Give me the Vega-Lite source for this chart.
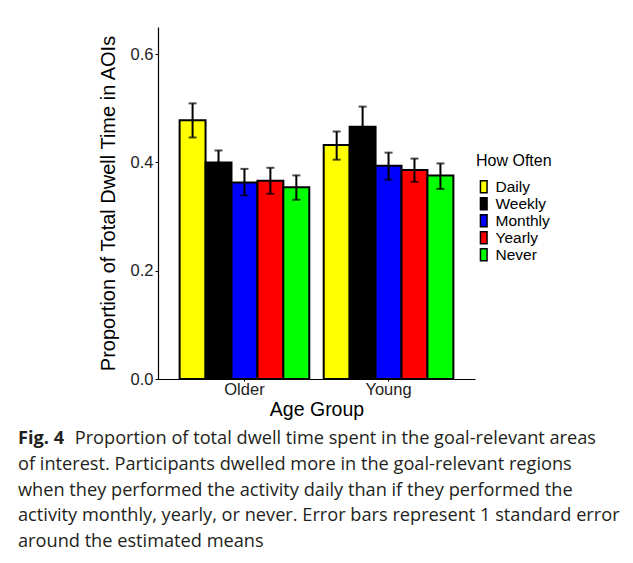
{
  "$schema": "https://vega.github.io/schema/vega-lite/v6.json",
  "width": 317,
  "height": 352,
  "autosize": {"type": "none"},
  "padding": {"left": 158, "top": 27, "right": 158, "bottom": 184},
  "background": "white",
  "config": {
    "view": {"stroke": null},
    "font": "Liberation Sans",
    "axis": {"domainColor": "black", "domainWidth": 1.2, "tickColor": "black", "tickSize": 3, "labelColor": "#222", "titleColor": "black", "grid": false}
  },
  "title": {
    "text": "Fig. 4",
    "subtitle": [
      "\u200b\u00a0\u00a0\u00a0\u00a0\u00a0\u00a0\u00a0\u00a0\u00a0\u00a0\u00a0\u00a0Proportion of total dwell time spent in the goal-relevant areas",
      "of interest. Participants dwelled more in the goal-relevant regions",
      "when they performed the activity daily than if they performed the",
      "activity monthly, yearly, or never. Error bars represent 1 standard error",
      "around the estimated means"
    ],
    "orient": "bottom",
    "anchor": "start",
    "frame": "group",
    "dx": -140,
    "offset": 11,
    "font": "Open Sans",
    "fontSize": 18.2,
    "fontWeight": "bold",
    "color": "#231f20",
    "subtitleFont": "Open Sans",
    "subtitleFontSize": 18.2,
    "subtitleColor": "#231f20",
    "subtitleLineHeight": 25.8,
    "subtitlePadding": -18.2
  },
  "data": {
    "values": [
      {"age": "Older", "freq": "Daily", "mean": 0.478, "lo": 0.446, "hi": 0.509},
      {"age": "Older", "freq": "Weekly", "mean": 0.400, "lo": 0.377, "hi": 0.422},
      {"age": "Older", "freq": "Monthly", "mean": 0.363, "lo": 0.339, "hi": 0.388},
      {"age": "Older", "freq": "Yearly", "mean": 0.366, "lo": 0.342, "hi": 0.390},
      {"age": "Older", "freq": "Never", "mean": 0.354, "lo": 0.331, "hi": 0.376},
      {"age": "Young", "freq": "Daily", "mean": 0.432, "lo": 0.405, "hi": 0.457},
      {"age": "Young", "freq": "Weekly", "mean": 0.466, "lo": 0.427, "hi": 0.503},
      {"age": "Young", "freq": "Monthly", "mean": 0.394, "lo": 0.368, "hi": 0.418},
      {"age": "Young", "freq": "Yearly", "mean": 0.386, "lo": 0.364, "hi": 0.407},
      {"age": "Young", "freq": "Never", "mean": 0.376, "lo": 0.351, "hi": 0.398}
    ]
  },
  "encoding": {
    "x": {
      "field": "age", "type": "nominal",
      "scale": {"paddingInner": 0.1, "paddingOuter": 0.15},
      "axis": {"title": "Age Group", "labelAngle": 0, "labelFontSize": 16.5, "titleFontSize": 19.5, "titleFontWeight": "normal", "tickSize": 2, "labelPadding": 0, "titlePadding": 3}
    },
    "xOffset": {"field": "freq", "type": "nominal", "sort": ["Daily", "Weekly", "Monthly", "Yearly", "Never"]}
  },
  "layer": [
    {
      "mark": {"type": "bar", "stroke": "black", "strokeWidth": 2},
      "encoding": {
        "y": {
          "field": "mean", "type": "quantitative",
          "scale": {"domain": [0, 0.65], "nice": false, "zero": true},
          "axis": {"title": "Proportion of Total Dwell Time in AOIs", "values": [0, 0.2, 0.4, 0.6], "format": ".1f", "labelFontSize": 16.5, "titleFontSize": 20, "titleFontWeight": "normal", "labelPadding": 2, "titlePadding": 12}
        },
        "color": {
          "field": "freq", "type": "nominal",
          "sort": ["Daily", "Weekly", "Monthly", "Yearly", "Never"],
          "scale": {"domain": ["Daily", "Weekly", "Monthly", "Yearly", "Never"], "range": ["#ffff00", "#000000", "#0000ff", "#ff0000", "#00ff00"]},
          "legend": {
            "title": "How Often",
            "orient": "none",
            "legendX": 318,
            "legendY": 126,
            "padding": 0,
            "titleFontSize": 16,
            "titleFontWeight": "normal",
            "titleColor": "black",
            "titlePadding": 10,
            "labelFontSize": 15.5,
            "labelColor": "black",
            "labelOffset": 4,
            "rowPadding": -9,
            "symbolType": "M-0.55,-1H0.55V1H-0.55Z",
            "symbolSize": 144,
            "symbolStrokeColor": "black",
            "symbolStrokeWidth": 1.5,
            "symbolOpacity": 1
          }
        }
      }
    },
    {
      "mark": {"type": "rule", "color": "black", "strokeWidth": 2},
      "encoding": {
        "y": {"field": "lo", "type": "quantitative"},
        "y2": {"field": "hi"}
      }
    },
    {
      "mark": {"type": "tick", "color": "black", "thickness": 2, "size": 8},
      "encoding": {"y": {"field": "lo", "type": "quantitative"}}
    },
    {
      "mark": {"type": "tick", "color": "black", "thickness": 2, "size": 8},
      "encoding": {"y": {"field": "hi", "type": "quantitative"}}
    }
  ]
}
